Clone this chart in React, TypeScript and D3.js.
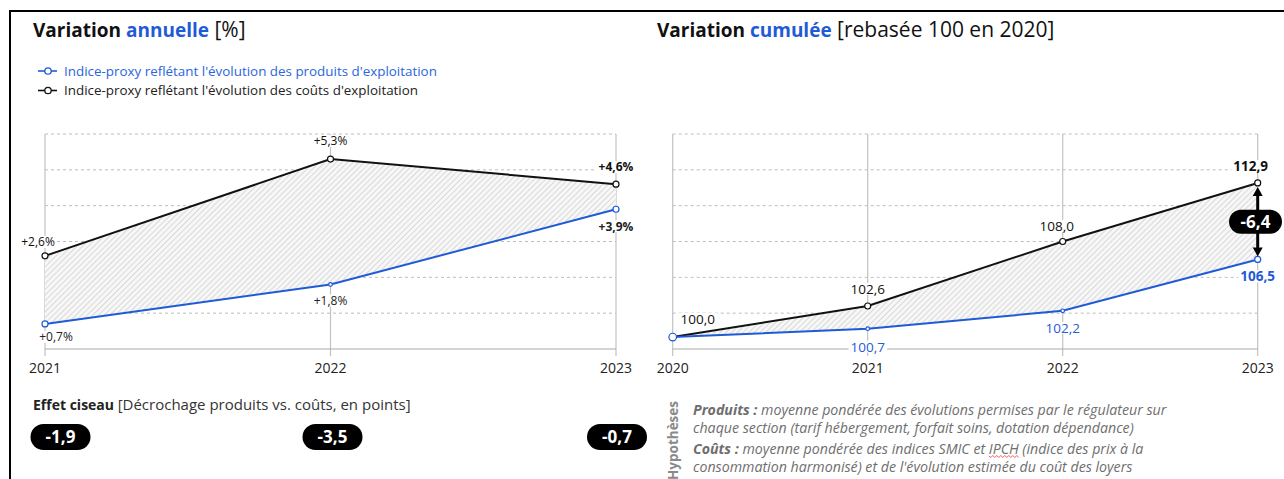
import React, { useEffect, useRef } from "react";
import * as d3 from "d3";

// ---- data ----
const annualYears = ["2021", "2022", "2023"];
const annualProduits = [0.7, 1.8, 3.9];
const annualCouts = [2.6, 5.3, 4.6];
const annualTicks = [0, 1, 2, 3, 4, 5, 6];

const cumulYears = ["2020", "2021", "2022", "2023"];
const cumulProduits = [100.0, 100.7, 102.2, 106.5];
const cumulCouts = [100.0, 102.6, 108.0, 112.9];
const cumulTicks = [99, 102, 105, 108, 111, 114, 117];

const scissorGaps = [-1.9, -3.5, -0.7];
const cumulGap = -6.4;

const legendLabels = [
  "Indice-proxy reflétant l'évolution des produits d'exploitation",
  "Indice-proxy reflétant l'évolution des coûts d'exploitation",
];

const BLUE = "#1f5bd6";
const BLACK = "#111";
const FONT = "'Open Sans', Lato, sans-serif";

const fr = (v: number) => v.toFixed(1).replace(".", ",");

export default function App() {
  const ref = useRef<SVGSVGElement | null>(null);

  useEffect(() => {
    const svg = d3.select(ref.current!);
    svg.selectAll("*").remove();

    const defs = svg.append("defs");
    const pat = defs
      .append("pattern")
      .attr("id", "hatch")
      .attr("patternUnits", "userSpaceOnUse")
      .attr("width", 4)
      .attr("height", 4)
      .attr("patternTransform", "rotate(45)");
    pat.append("rect").attr("width", 4).attr("height", 4).attr("fill", "#f7f7f7");
    pat.append("line").attr("x1", 0).attr("y1", 0).attr("x2", 0).attr("y2", 4)
      .attr("stroke", "#c9c9c9").attr("stroke-width", 1.3);

    // frame
    svg.append("line").attr("x1", 9).attr("x2", 1284).attr("y1", 11).attr("y2", 11).attr("stroke", "#000").attr("stroke-width", 2);
    svg.append("line").attr("x1", 10).attr("x2", 10).attr("y1", 10).attr("y2", 479).attr("stroke", "#000").attr("stroke-width", 2);

    // titles
    const title = (x: number, a: string, b: string, c: string) => {
      const t = svg.append("text").attr("x", x).attr("y", 37).attr("font-family", FONT).attr("font-size", 19).attr("fill", BLACK);
      t.append("tspan").attr("font-weight", 700).text(a);
      t.append("tspan").attr("font-weight", 700).attr("fill", BLUE).text(b);
      t.append("tspan").attr("font-weight", 400).attr("font-size", 21).text(c);
    };
    title(33, "Variation ", "annuelle", " [%]");
    title(657, "Variation ", "cumulée", " [rebasée 100 en 2020]");

    // legend
    legendLabels.forEach((lab, i) => {
      const y = 71 + i * 19.5;
      const col = i === 0 ? BLUE : BLACK;
      svg.append("line").attr("x1", 38).attr("x2", 57).attr("y1", y).attr("y2", y).attr("stroke", col).attr("stroke-width", 1.6);
      svg.append("circle").attr("cx", 48).attr("cy", y).attr("r", 3.2).attr("fill", "#fff").attr("stroke", col).attr("stroke-width", 1.3);
      svg.append("text").attr("x", 64).attr("y", y + 4.5).attr("font-family", FONT).attr("font-size", 13.4).attr("fill", i === 0 ? "#2a66dd" : "#222").text(lab);
    });

    type LabelSpec = { dx: number; dy: number; bold?: boolean; show?: boolean };

    const drawChart = (
      years: string[],
      prod: number[],
      couts: number[],
      ticks: number[],
      xr: [number, number],
      yd: [number, number],
      fmt: (v: number) => string,
      prodLab: LabelSpec[],
      coutLab: LabelSpec[],
      fontSize: number,
      prodColor: string,
      bigFirstBlue: boolean
    ) => {
      const x = d3.scalePoint<string>().domain(years).range(xr);
      const y = d3.scaleLinear().domain(yd).range([349, 134]);
      const g = svg.append("g");
      // horizontal dashed grid
      g.selectAll("line.h").data(ticks.slice(1)).enter().append("line")
        .attr("x1", xr[0]).attr("x2", xr[1]).attr("y1", (d) => y(d)).attr("y2", (d) => y(d))
        .attr("stroke", "#bdbdbd").attr("stroke-dasharray", "3,3").attr("stroke-width", 1);
      // vertical lines
      g.selectAll("line.v").data(years).enter().append("line")
        .attr("x1", (d) => x(d)!).attr("x2", (d) => x(d)!).attr("y1", y(ticks[ticks.length - 1])).attr("y2", 356)
        .attr("stroke", "#c2c2c2").attr("stroke-width", 1.2);
      // axis
      g.append("line").attr("x1", xr[0]).attr("x2", xr[1]).attr("y1", y(ticks[0])).attr("y2", y(ticks[0]))
        .attr("stroke", "#aaa").attr("stroke-width", 1.2);
      g.selectAll("text.tick").data(years).enter().append("text")
        .attr("x", (d) => x(d)!).attr("y", 373).attr("text-anchor", "middle")
        .attr("font-family", FONT).attr("font-size", 14).attr("fill", "#222").text((d) => d);

      const idx = d3.range(years.length);
      const area = d3.area<number>().x((i) => x(years[i])!).y0((i) => y(prod[i])).y1((i) => y(couts[i]));
      g.append("path").attr("d", area(idx)!).attr("fill", "url(#hatch)");
      const line = (vals: number[]) => d3.line<number>().x((i) => x(years[i])!).y((i) => y(vals[i]))(idx)!;
      g.append("path").attr("d", line(couts)).attr("fill", "none").attr("stroke", BLACK).attr("stroke-width", 2);
      g.append("path").attr("d", line(prod)).attr("fill", "none").attr("stroke", BLUE).attr("stroke-width", 2);
      idx.forEach((i) => {
        g.append("circle").attr("cx", x(years[i])!).attr("cy", y(couts[i])).attr("r", 3)
          .attr("fill", "#fff").attr("stroke", BLACK).attr("stroke-width", 1.2);
      });
      idx.forEach((i) => {
        const edge = i === 0 || i === years.length - 1;
        const r = i === 0 && bigFirstBlue ? 3.8 : edge ? 3 : 1.8;
        g.append("circle").attr("cx", x(years[i])!).attr("cy", y(prod[i])).attr("r", r)
          .attr("fill", "#fff").attr("stroke", BLUE).attr("stroke-width", 1.2);
      });

      const label = (px: number, py: number, txt: string, spec: LabelSpec, col: string) => {
        if (spec.show === false) return;
        const lg = g.append("g");
        const t = lg.append("text").attr("x", px + spec.dx).attr("y", py + spec.dy + fontSize * 0.36)
          .attr("text-anchor", "middle").attr("font-family", FONT).attr("font-size", fontSize)
          .attr("font-weight", spec.bold ? 700 : 400).attr("fill", col).text(txt);
        const bb = (t.node() as SVGTextElement).getBBox();
        lg.insert("rect", "text").attr("x", bb.x - 2).attr("y", py + spec.dy - 6).attr("width", bb.width + 4).attr("height", 12).attr("fill", "#fff");
      };
      idx.forEach((i) => {
        label(x(years[i])!, y(couts[i]), fmt(couts[i]), coutLab[i], BLACK);
        label(x(years[i])!, y(prod[i]), fmt(prod[i]), prodLab[i], prodColor);
      });
      return { x, y };
    };

    const pct = (v: number) => (v >= 0 ? "+" : "") + fr(v) + "%";
    drawChart(
      annualYears, annualProduits, annualCouts, annualTicks, [45, 616], [0, 6], pct,
      [{ dx: 11, dy: 13 }, { dx: 0, dy: 16 }, { dx: 0, dy: 17, bold: true }],
      [{ dx: -7, dy: -14 }, { dx: 0, dy: -18 }, { dx: 0, dy: -17, bold: true }],
      12, "#222", false
    );
    const right = drawChart(
      cumulYears, cumulProduits, cumulCouts, cumulTicks, [672.7, 1257.7], [99, 117], fr,
      [{ dx: 0, dy: 0, show: false }, { dx: 0, dy: 18 }, { dx: 0, dy: 17 }, { dx: 0, dy: 17, bold: true }],
      [{ dx: 25, dy: -18 }, { dx: 0, dy: -17 }, { dx: -6, dy: -15.5 }, { dx: -7, dy: -17, bold: true }],
      13.5, BLUE, true
    );

    // cumulative gap arrow + badge
    const ax = right.x(cumulYears[3])!;
    const yTop = right.y(cumulCouts[3]) + 4;
    const yBot = right.y(cumulProduits[3]) - 3;
    svg.append("line").attr("x1", ax).attr("x2", ax).attr("y1", yTop + 6).attr("y2", yBot - 6).attr("stroke", "#000").attr("stroke-width", 3);
    svg.append("path").attr("d", `M${ax},${yTop} L${ax - 5},${yTop + 9} L${ax + 5},${yTop + 9} Z`).attr("fill", "#000");
    svg.append("path").attr("d", `M${ax},${yBot} L${ax - 5},${yBot - 9} L${ax + 5},${yBot - 9} Z`).attr("fill", "#000");
    const by = (yTop + yBot) / 2;
    svg.append("rect").attr("x", 1229).attr("y", by - 12).attr("width", 53).attr("height", 24).attr("rx", 12).attr("fill", "#000");
    svg.append("text").attr("x", 1255.5).attr("y", by + 6).attr("text-anchor", "middle").attr("font-family", FONT)
      .attr("font-size", 17).attr("font-weight", 700).attr("fill", "#fff").text(fr(cumulGap));

    // scissor effect
    const et = svg.append("text").attr("x", 33).attr("y", 410).attr("font-family", FONT).attr("font-size", 14).attr("fill", "#222");
    et.append("tspan").attr("font-weight", 700).text("Effet ciseau ");
    et.append("tspan").attr("font-weight", 400).attr("font-size", 15).attr("fill", "#333").text("[Décrochage produits vs. coûts, en points]");
    const badgeX = [60.5, 332.5, 617];
    scissorGaps.forEach((v, i) => {
      svg.append("rect").attr("x", badgeX[i] - 30).attr("y", 424).attr("width", 60).attr("height", 26).attr("rx", 13).attr("fill", "#000");
      svg.append("text").attr("x", badgeX[i]).attr("y", 443).attr("text-anchor", "middle").attr("font-family", FONT)
        .attr("font-size", 17).attr("font-weight", 700).attr("fill", "#fff").text(fr(v));
    });

    // hypotheses
    svg.append("text").attr("transform", "translate(678,480) rotate(-90)").attr("font-family", FONT)
      .attr("font-size", 13.5).attr("font-weight", 700).attr("fill", "#8a8a8a").text("Hypothèses");
    const hyp = (yy: number, parts: [string, boolean][]) => {
      const t = svg.append("text").attr("x", 693).attr("y", yy).attr("font-family", FONT).attr("font-size", 14.2)
        .attr("font-style", "italic").attr("fill", "#6e6e6e");
      parts.forEach(([s, b]) => t.append("tspan").attr("font-weight", b ? 700 : 400).text(s));
      return t;
    };
    hyp(415, [["Produits : ", true], ["moyenne pondérée des évolutions permises par le régulateur sur", false]]);
    hyp(432.5, [["chaque section (tarif hébergement, forfait soins, dotation dépendance)", false]]);
    const l3Y = 454;
    const l3 = hyp(l3Y, [["Coûts : ", true], ["moyenne pondérée des indices SMIC et IPCH (indice des prix à la", false]]);
    hyp(471.5, [["consommation harmonisé) et de l'évolution estimée du coût des loyers", false]]);
    try {
      const node = l3.node() as SVGTextElement;
      const full = node.textContent || "";
      const start = full.indexOf("IPCH");
      const x0 = node.getStartPositionOfChar(start).x;
      const x1 = node.getEndPositionOfChar(start + 3).x;
      let d = `M${x0},${l3Y + 2}`;
      let k = 0;
      for (let xx = x0; xx < x1; xx += 2, k++) d += ` L${xx + 2},${k % 2 === 0 ? l3Y + 3.5 : l3Y + 1.5}`;
      svg.append("path").attr("d", d).attr("fill", "none").attr("stroke", "#e04040").attr("stroke-width", 0.8);
    } catch (e) {}
  }, []);

  return (
    <div style={{ position: "absolute", left: 0, top: 0 }}>
      <svg ref={ref} width={1284} height={479} style={{ display: "block", background: "#fff" }} />
    </div>
  );
}
